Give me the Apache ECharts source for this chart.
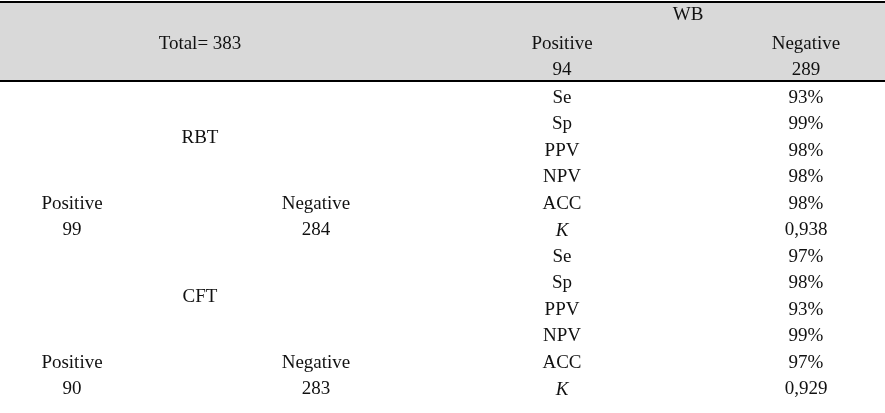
<!DOCTYPE html>
<html><head><meta charset="utf-8">
<script src="https://cdn.jsdelivr.net/npm/echarts@6/dist/echarts.min.js"></script>
<style>html,body{margin:0;padding:0;background:#fff}#c{width:885px;height:413px}</style>
</head><body><div id="c"></div>
<script>
const headerTotal = "Total= 383";
const headerWB = "WB";
const wbLabels = ["Positive", "Negative"];
const wbCounts = ["94", "289"];
const tests = ["RBT", "CFT"];
const testPositive = ["99", "90"];
const testNegative = ["284", "283"];
const metrics = ["Se", "Sp", "PPV", "NPV", "ACC", "K"];
const rbtValues = ["93%", "99%", "98%", "98%", "98%", "0,938"];
const cftValues = ["97%", "98%", "93%", "99%", "97%", "0,929"];

const F = '"Liberation Serif","DejaVu Serif",serif';
const els = [];
function t(x, y, s, italic) {
  els.push({type:'text', x:x, y:y, style:{text:s, fill:'#111', font:(italic?'italic ':'')+'19px '+F, textAlign:'center', textVerticalAlign:'middle'}});
}
els.push({type:'rect', shape:{x:0,y:2,width:885,height:79}, style:{fill:'#d9d9d9'}});
els.push({type:'line', shape:{x1:0,y1:2,x2:885,y2:2}, style:{stroke:'#000', lineWidth:2}});
els.push({type:'line', shape:{x1:0,y1:81,x2:885,y2:81}, style:{stroke:'#000', lineWidth:2}});
t(688, 15, headerWB);
t(200, 44, headerTotal);
t(562, 44, wbLabels[0]); t(806, 44, wbLabels[1]);
t(562, 70, wbCounts[0]); t(806, 70, wbCounts[1]);
const y0 = 98, dy = 26.5;
[rbtValues, cftValues].forEach((vals, g) => {
  const base = y0 + g*6*dy;
  metrics.forEach((m, i) => { t(562, base+i*dy, m, m==='K'); t(806, base+i*dy, vals[i]); });
  t(200, base+1.5*dy, tests[g]);
  t(72, base+4*dy, 'Positive'); t(72, base+5*dy, testPositive[g]);
  t(316, base+4*dy, 'Negative'); t(316, base+5*dy, testNegative[g]);
});
const chart = echarts.init(document.getElementById('c'));
chart.setOption({animation:false, graphic:els});
</script></body></html>
